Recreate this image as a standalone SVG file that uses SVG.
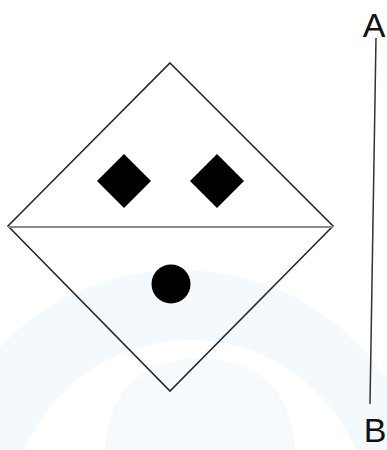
<svg xmlns="http://www.w3.org/2000/svg" width="387" height="450" viewBox="0 0 387 450">
<style>
.outline{fill:none;stroke:#2a2a2a;stroke-width:1.6;stroke-linejoin:miter}
.mid{stroke:#8a8a8a;stroke-width:2.2}
.solid{fill:#000}
.lbl{font-family:"Liberation Sans",Arial,sans-serif;font-size:34px;fill:#111}
.wm{fill:#f3f9fc;fill-rule:evenodd}
.wm2{fill:#f6fafd}
</style>
<rect width="387" height="450" fill="#fff"/>
<g id="watermark">
<path class="wm" d="M-70,520 A250,250 0 0 1 430,520 Z M10,520 A180,180 0 0 1 370,520 Z"/>
<path class="wm2" d="M105,450 Q110,362 200,358 Q290,362 295,450 Z"/>
</g>
<g id="shape">
<polygon class="outline" points="170,63 333,226 170,391 8,226"/>
<line class="mid" x1="8" y1="227" x2="333" y2="227"/>
</g>
<g id="diamond-left"><polygon class="solid" points="124,154 151,181 124,208 97,181"/></g>
<g id="diamond-right"><polygon class="solid" points="217,154 244,181 217,208 190,181"/></g>
<g id="dot"><circle class="solid" cx="171" cy="284" r="19.5"/></g>
<g id="connectors">
<line x1="376" y1="38" x2="370" y2="404" stroke="#333" stroke-width="1.5"/>
</g>
<g id="labels">
<text class="lbl" x="374" y="37" text-anchor="middle">A</text>
<text class="lbl" x="375" y="442" text-anchor="middle">B</text>
</g>
</svg>
